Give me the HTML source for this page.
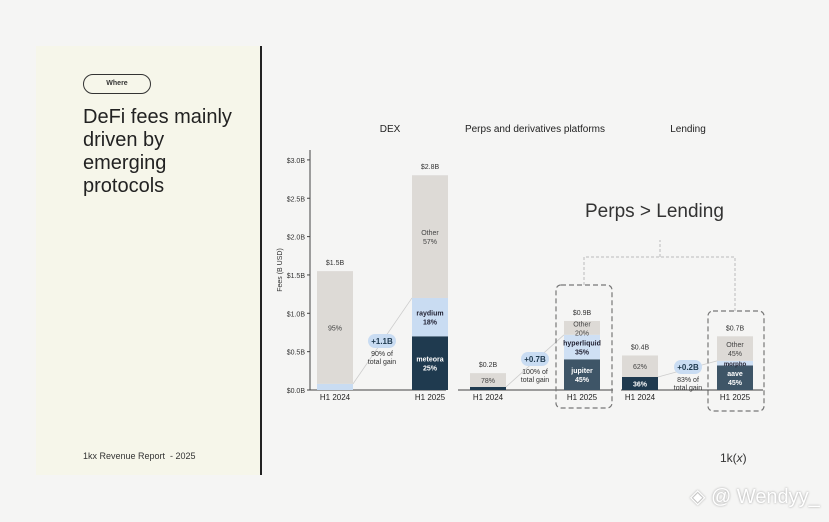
<!DOCTYPE html>
<html style="width:829px;height:522px;overflow:hidden"><head><meta charset="utf-8"><style>
body{margin:0;width:829px;height:522px;background:#f5f5f4;font-family:"Liberation Sans",sans-serif;overflow:hidden;position:relative}
svg{position:absolute;left:0;top:0}
</style></head><body>
<div style="position:absolute;left:36px;top:46px;width:224px;height:429px;background:#f6f6ea"></div>
<div style="position:absolute;left:260px;top:46px;width:2px;height:429px;background:#222"></div>
<div style="position:absolute;left:83px;top:74px;width:66px;height:18px;border:1.5px solid #333;border-radius:10px;font-size:7px;font-weight:bold;text-align:center;line-height:18px;color:#333">Where</div>
<div style="position:absolute;left:83px;top:106px;font-size:20px;line-height:23px;color:#222">DeFi fees mainly<br>driven by<br>emerging<br>protocols</div>
<div style="position:absolute;left:83px;top:451px;font-size:9px;color:#333">1kx Revenue Report &nbsp;- 2025</div>
<div style="position:absolute;left:720px;top:451px;font-size:12px;color:#333">1k(<i>x</i>)</div>
<div style="position:absolute;left:690px;top:484px;font-size:20px;color:#fff;white-space:nowrap;text-shadow:0 0 2px #999">◈ @ Wendyy_</div>
<div style="position:absolute;left:585px;top:201px;font-size:19px;color:#333">Perps &gt; Lending</div>
<svg id="c" width="829" height="522"></svg>
<script>
const groups=["DEX","Perps and derivatives platforms","Lending"];
const totals=[1.55,2.8,0.22,0.9,0.45,0.7];
const totalLabels=["$1.5B","$2.8B","$0.2B","$0.9B","$0.4B","$0.7B"];
const segDark=[0,0.7,0.04,0.4,0.17,0.32];
const segMid=[0.08,0.5,0,0.32,0,0.06];
const gains=["+1.1B","+0.7B","+0.2B"];
const gainSub=["90% of","100% of","83% of"];
const yTicks=[0,0.5,1,1.5,2,2.5,3];
const yTickLabels=["$0.0B","$0.5B","$1.0B","$1.5B","$2.0B","$2.5B","$3.0B"];
const barX=[317,412,470,564,622,717];
const bw=36;
const y=v=>390-v*76.7;
const s=document.getElementById('c');const NS="http://www.w3.org/2000/svg";
function el(t,a,txt){const e=document.createElementNS(NS,t);for(const k in a)e.setAttribute(k,a[k]);if(txt!=null)e.textContent=txt;s.appendChild(e);return e;}
let e;
e=el('line',{x1:310,y1:150,x2:310,y2:390,stroke:'#444'});


yTicks.forEach((v,i)=>{
 e=el('text',{x:305,y:y(v)+3,'font-size':7,'text-anchor':'end',fill:'#333'},yTickLabels[i]);
 
 
 el('line',{x1:307,x2:310,y1:y(v),y2:y(v),stroke:'#444'});
});
e=el('text',{x:282,y:270,'font-size':7,'text-anchor':'middle',fill:'#333',transform:'rotate(-90 282 270)'},'Fees (B USD)');


[[310,446],[458,613],[621,763]].forEach(b=>{
 e=el('line',{x1:b[0],x2:b[1],y1:390,y2:390,stroke:'#444'});
 
 
});
[[390,132],[535,132],[688,132]].forEach((p,i)=>{
 e=el('text',{x:p[0],y:p[1],'font-size':10,'text-anchor':'middle',fill:'#222'},groups[i]);
 
 
});
const midCol=['#c9dcf2','#c9dcf2','#c9dcf2','#cfe0f4','#c9dcf2','#cfe0f4'];
const darkCol=['#1f3a4f','#1f3a4f','#1f3a4f','#3e5567','#1f3a4f','#3e5567'];
const labels=[
 [[null],[null],["95%"]],
 [["meteora","25%"],["raydium","18%"],["Other","57%"]],
 [[null],[null],["78%"]],
 [["jupiter","45%"],["hyperliquid","35%"],["Other","20%"]],
 [["36%"],[null],["62%"]],
 [["aave","45%"],["morpho"],["Other","45%"]]];
[[0,382,342],[1,535,360],[2,688,368]].forEach(([g,cx,cy])=>{
 const a=g*2,b=g*2+1;
 el('line',{x1:barX[a]+bw,y1:y(segDark[a]+segMid[a]),x2:barX[b],y2:y(segDark[b]+segMid[b]),stroke:'#ccc','stroke-width':0.8});
});
totals.forEach((t,i)=>{
 const x=barX[i];const d=segDark[i],m=segMid[i];
 const parts=[[0,d,darkCol[i],'#fff'],[d,d+m,midCol[i],'#223'],[d+m,t,'#dddad6','#444']];
 parts.forEach((p,j)=>{
  if(p[1]-p[0]<=0)return;
  e=el('rect',{x:x,y:y(p[1]),width:bw,height:y(p[0])-y(p[1]),fill:p[2]});
  
  
  const lb=labels[i][j];
  if(lb[0]){const cy=(y(p[0])+y(p[1]))/2;const n=lb.length;
   lb.forEach((L,k)=>{el('text',{x:x+bw/2,y:cy+3+(k-(n-1)/2)*9,'font-size':n==1&&j==1?6:7,'text-anchor':'middle',fill:p[3],'font-weight':j<2?'bold':'normal'},L);});}
 });
 e=el('text',{x:x+bw/2,y:y(t)-6,'font-size':7,'text-anchor':'middle',fill:'#333'},totalLabels[i]);
 
 
 el('text',{x:x+bw/2,y:400,'font-size':8,'text-anchor':'middle',fill:'#222'},i%2?'H1 2025':'H1 2024');
});
[[0,382,342],[1,535,360],[2,688,368]].forEach(([g,cx,cy])=>{
 e=el('rect',{x:cx-14,y:cy-8,width:28,height:14,rx:7,fill:'#c9dcf2'});
 
 
 el('text',{x:cx,y:cy+2,'font-size':8,'font-weight':'bold','text-anchor':'middle',fill:'#1f3a4f'},gains[g]);
 el('text',{x:cx,y:cy+14,'font-size':7,'text-anchor':'middle',fill:'#333'},gainSub[g]);
 el('text',{x:cx,y:cy+22,'font-size':7,'text-anchor':'middle',fill:'#333'},'total gain');
});
[[556,285,56,123],[708,311,56,100]].forEach(r=>{
 e=el('rect',{x:r[0],y:r[1],width:r[2],height:r[3],rx:5,fill:'none',stroke:'#777','stroke-dasharray':'5 3','stroke-width':1.2});
 
 
});
el('path',{d:'M584 285 V257 H735 V311 M660 257 V240',fill:'none',stroke:'#bbb','stroke-dasharray':'3 2'});
</script>
</body></html>
